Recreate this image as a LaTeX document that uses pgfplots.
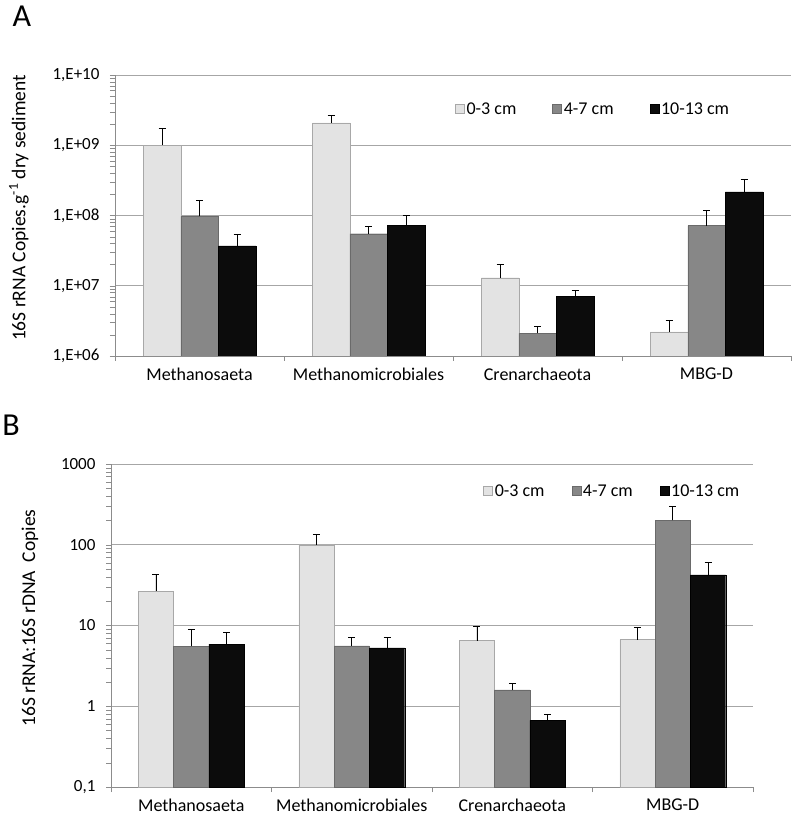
\documentclass[border=0pt]{standalone}
\usepackage{pgfplots}
\pgfplotsset{compat=1.18}
\usepackage{fontspec}
\setmainfont{Carlito}
\definecolor{cLight}{HTML}{E3E3E3}
\definecolor{cLightE}{HTML}{A8A8A8}
\definecolor{cGrey}{HTML}{878787}
\definecolor{cGreyE}{HTML}{6A6A6A}
\definecolor{cBlack}{HTML}{0C0C0C}
\definecolor{cGrid}{HTML}{A6A6A6}
\definecolor{cAxis}{HTML}{8C8C8C}
\newcommand{\xl}{\fontsize{18}{21}\selectfont}
\newcommand{\yl}{\fontsize{17}{20}\selectfont}
\begin{document}
\begin{tikzpicture}
\path[use as bounding box] (0pt,0pt) rectangle (795pt,-821pt);
\node[font=\fontsize{32}{36}\selectfont] at (22pt,-16pt) {A};
\node[font=\fontsize{32}{36}\selectfont] at (11pt,-425pt) {B};
\begin{axis}[
  scale only axis,
  ymode=log, log origin=infty,
  ybar=0pt,
  xmin=-0.5, xmax=3.5,
  xtick={0,1,2,3},
  xticklabels={{\xl Methanosaeta},{\xl Methanomicrobiales},{\xl Crenarchaeota},{\xl MBG-D}},
  minor xtick={-0.5,0.5,1.5,2.5,3.5},
  major x tick style={draw=none},
  minor x tick style={draw=cAxis},
  minor tick length=5pt,
  major tick length=5pt,
  tick align=outside,
  ytick style={draw=cAxis},
  axis x line*=bottom,
  axis y line*=left,
  axis line style={draw=cAxis,-},
  ymajorgrids,
  major grid style={draw=cGrid, line width=0.9pt},
  xticklabel style={font=\xl, yshift=-3pt},
  yticklabel style={font=\yl, xshift=-7pt},
  ylabel style={font=\fontsize{19.5}{22}\selectfont, at={(axis description cs:-0.142,0.527)}, anchor=center},
  legend style={draw=none, fill=none, font=\fontsize{18}{21}\selectfont, legend columns=3,
    /tikz/every even column/.append style={column sep=34pt}},
  legend image code/.code={\draw[#1] (0pt,-4.5pt) rectangle (9pt,4.5pt);},
  at={(115pt,-356pt)}, anchor=south west,
  width=676pt, height=281pt,
  bar width=37.5pt,
  ymin=1e6, ymax=1e10,
  ytick={1e6,1e7,1e8,1e9,1e10},
  yticklabels={{\yl 1,E+06},{\yl 1,E+07},{\yl 1,E+08},{\yl 1,E+09},{\yl 1,E+10}},
  ylabel={16S rRNA Copies.g\textsuperscript{-1} dry sediment},
  legend style={at={(rel axis cs:0.4985,0.879)}, anchor=west},
]
\addplot[draw=cLightE, fill=cLight, error bars/.cd, y dir=plus, y explicit, error bar style={black, line width=0.8pt}, error mark=-, error mark options={black, rotate=90, mark size=3.5pt, line width=0.8pt}]
  coordinates {(0,1.0e9) +- (0,0.71e9) (1,2.08e9) +- (0,0.57e9) (2,1.3e7) +- (0,0.7e7) (3,2.2e6) +- (0,1.0e6)};
\addplot[draw=cGreyE, fill=cGrey, error bars/.cd, y dir=plus, y explicit, error bar style={black, line width=0.8pt}, error mark=-, error mark options={black, rotate=90, mark size=3.5pt, line width=0.8pt}]
  coordinates {(0,9.7e7) +- (0,6.8e7) (1,5.5e7) +- (0,1.5e7) (2,2.1e6) +- (0,0.54e6) (3,7.2e7) +- (0,4.5e7)};
\addplot[draw=black, fill=cBlack, error bars/.cd, y dir=plus, y explicit, error bar style={black, line width=0.8pt}, error mark=-, error mark options={black, rotate=90, mark size=3.5pt, line width=0.8pt}]
  coordinates {(0,3.7e7) +- (0,1.6e7) (1,7.3e7) +- (0,2.7e7) (2,7.0e6) +- (0,1.5e6) (3,2.17e8) +- (0,1.13e8)};
\legend{0-3 cm,4-7 cm,10-13 cm}
\end{axis}
\begin{axis}[
  scale only axis,
  ymode=log, log origin=infty,
  ybar=0pt,
  xmin=-0.5, xmax=3.5,
  xtick={0,1,2,3},
  xticklabels={{\xl Methanosaeta},{\xl Methanomicrobiales},{\xl Crenarchaeota},{\xl MBG-D}},
  minor xtick={-0.5,0.5,1.5,2.5,3.5},
  major x tick style={draw=none},
  minor x tick style={draw=cAxis},
  minor tick length=5pt,
  major tick length=5pt,
  tick align=outside,
  ytick style={draw=cAxis},
  axis x line*=bottom,
  axis y line*=left,
  axis line style={draw=cAxis,-},
  ymajorgrids,
  major grid style={draw=cGrid, line width=0.9pt},
  xticklabel style={font=\xl, yshift=-3pt},
  yticklabel style={font=\yl, xshift=-7pt},
  ylabel style={font=\fontsize{19.5}{22}\selectfont, at={(axis description cs:-0.126,0.523)}, anchor=center},
  legend style={draw=none, fill=none, font=\fontsize{18}{21}\selectfont, legend columns=3,
    /tikz/every even column/.append style={column sep=25pt}},
  legend image code/.code={\draw[#1] (0pt,-4.5pt) rectangle (9pt,4.5pt);},
  at={(111pt,-787pt)}, anchor=south west,
  width=642pt, height=323pt,
  bar width=35.3pt,
  ymin=0.1, ymax=1000,
  ytick={0.1,1,10,100,1000},
  yticklabels={{\yl 0,1},{\yl 1},{\yl 10},{\yl 100},{\yl 1000}},
  ylabel={16S rRNA:16S rDNA\ \ Copies},
  legend style={at={(rel axis cs:0.575,0.916)}, anchor=west},
]
\addplot[draw=cLightE, fill=cLight, error bars/.cd, y dir=plus, y explicit, error bar style={black, line width=0.8pt}, error mark=-, error mark options={black, rotate=90, mark size=3.5pt, line width=0.8pt}]
  coordinates {(0,26.7) +- (0,16.3) (1,100) +- (0,34) (2,6.5) +- (0,3.2) (3,6.7) +- (0,2.7)};
\addplot[draw=cGreyE, fill=cGrey, error bars/.cd, y dir=plus, y explicit, error bar style={black, line width=0.8pt}, error mark=-, error mark options={black, rotate=90, mark size=3.5pt, line width=0.8pt}]
  coordinates {(0,5.5) +- (0,3.35) (1,5.6) +- (0,1.6) (2,1.6) +- (0,0.33) (3,200) +- (0,95)};
\addplot[draw=black, fill=cBlack, error bars/.cd, y dir=plus, y explicit, error bar style={black, line width=0.8pt}, error mark=-, error mark options={black, rotate=90, mark size=3.5pt, line width=0.8pt}]
  coordinates {(0,5.9) +- (0,2.4) (1,5.3) +- (0,1.8) (2,0.67) +- (0,0.13) (3,42.5) +- (0,18.5)};
\legend{0-3 cm,4-7 cm,10-13 cm}
\end{axis}
\end{tikzpicture}
\end{document}
